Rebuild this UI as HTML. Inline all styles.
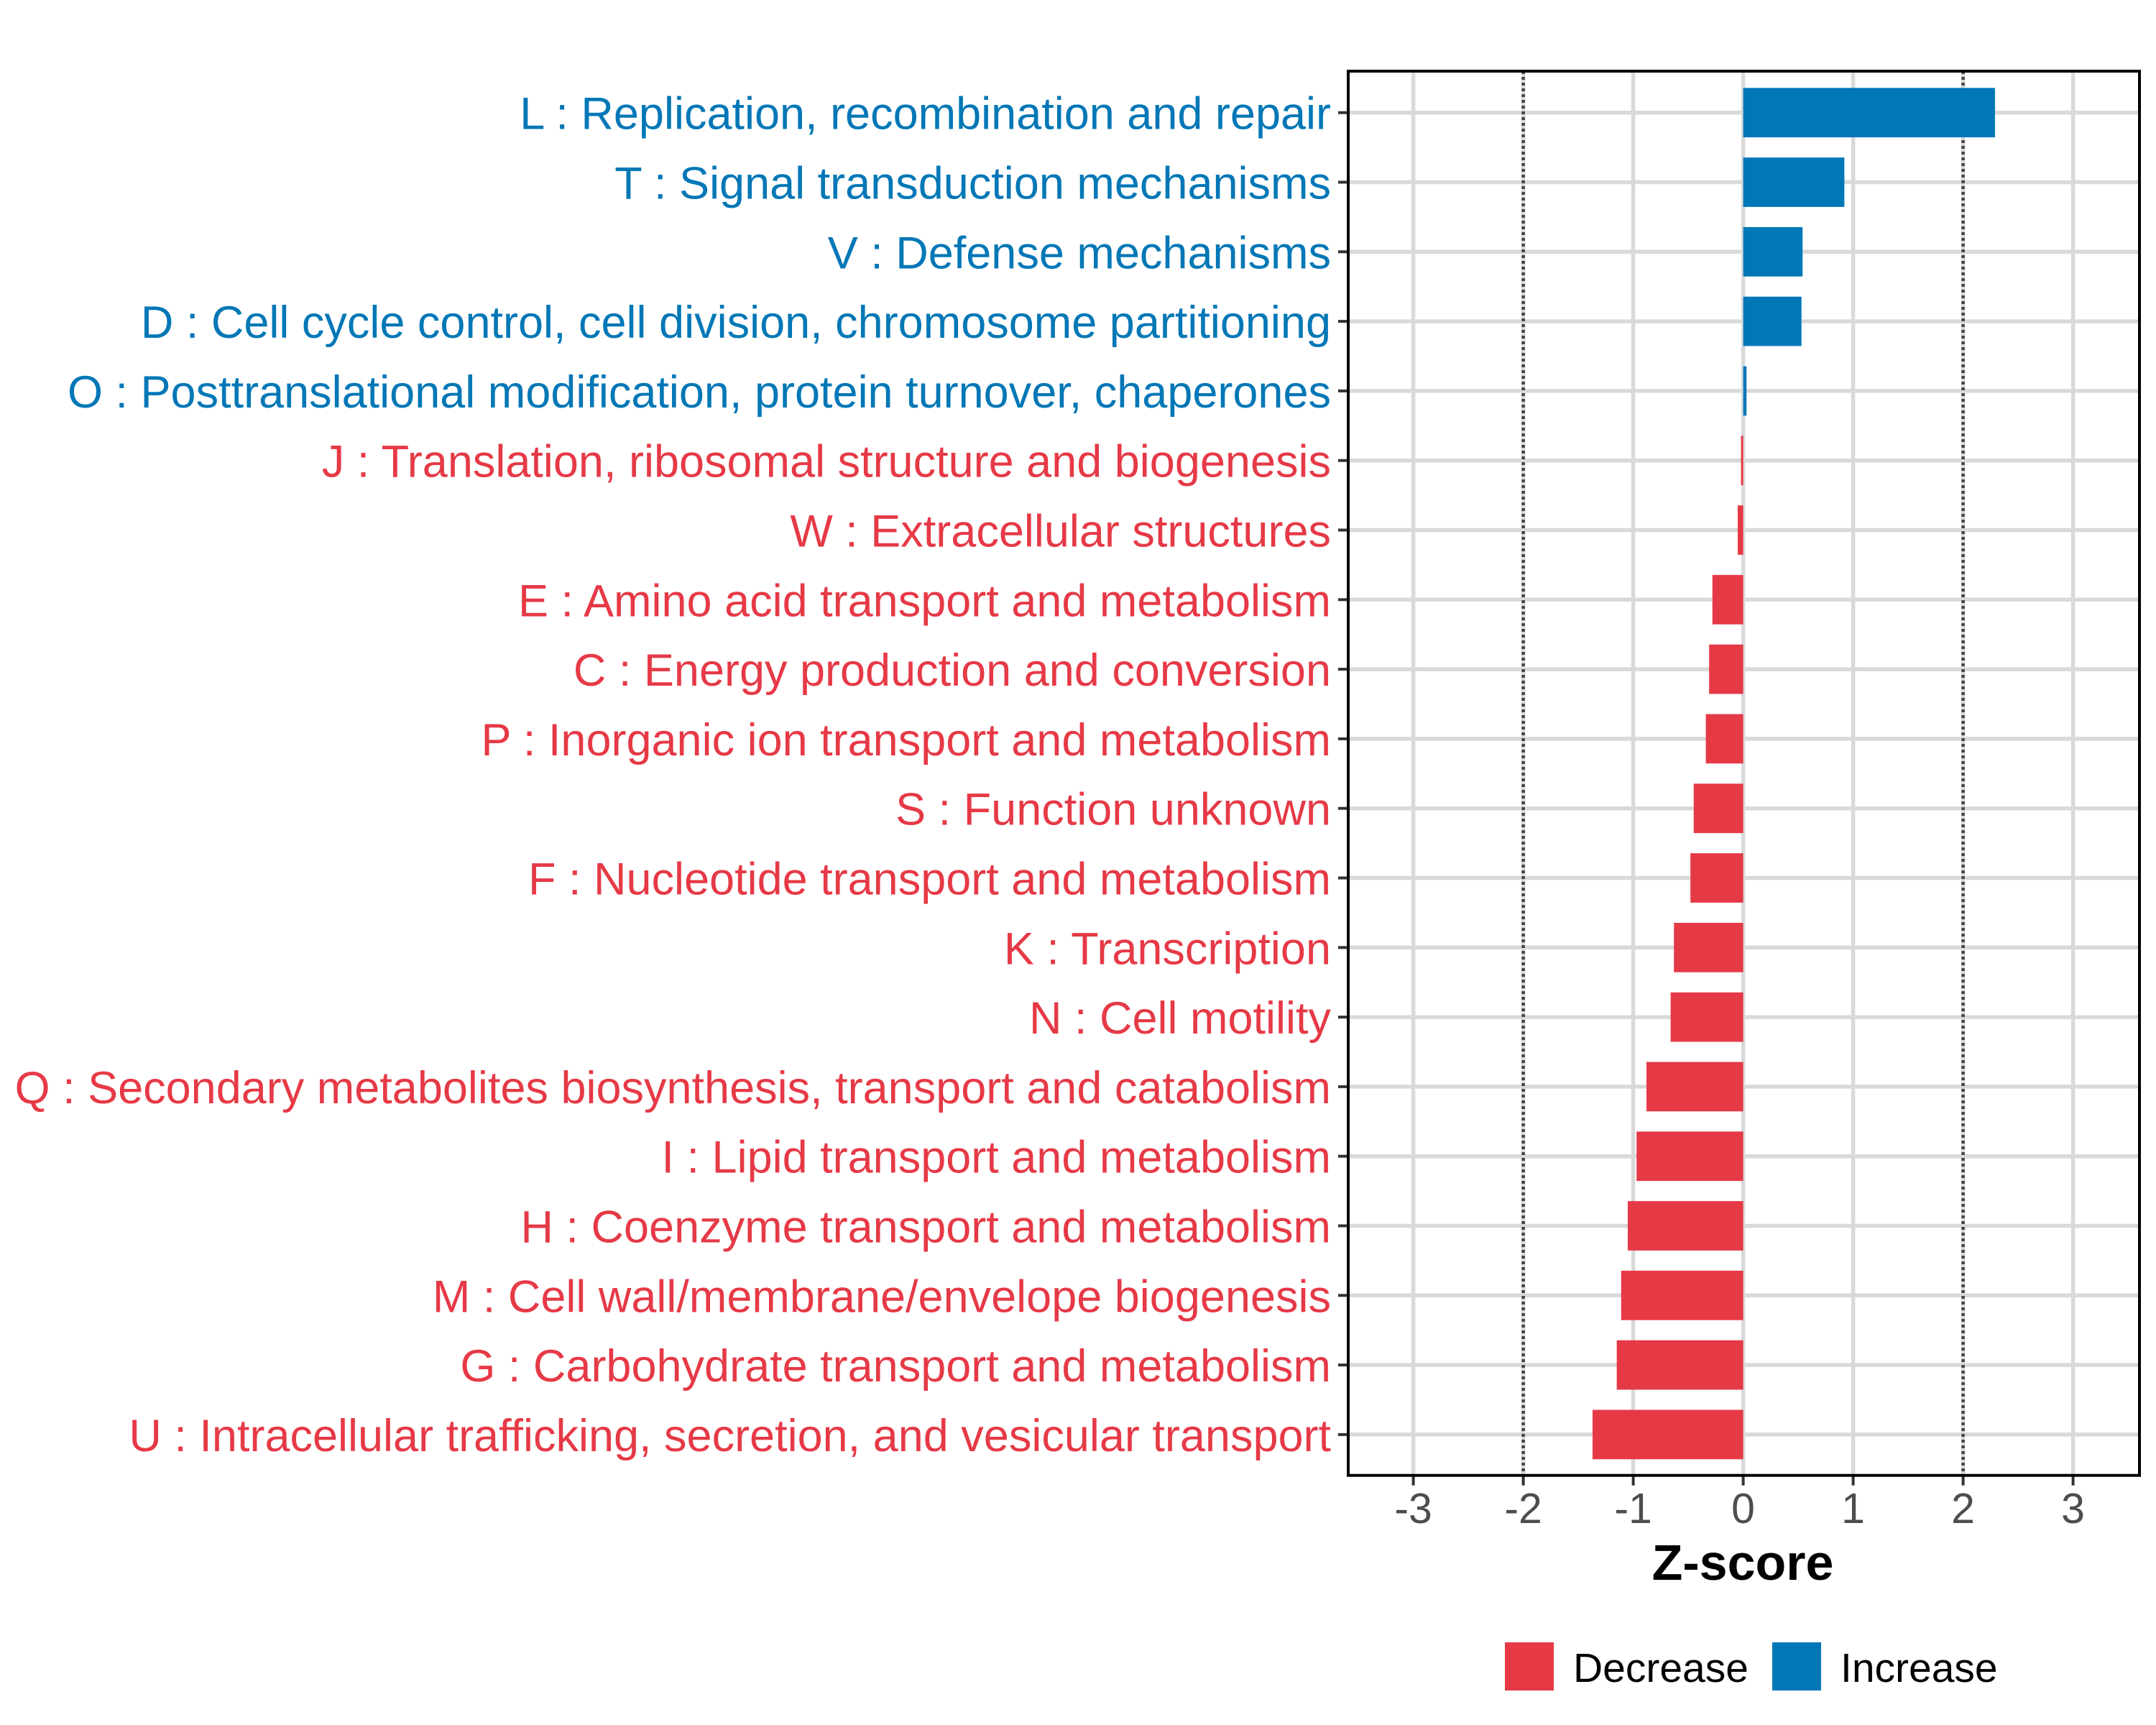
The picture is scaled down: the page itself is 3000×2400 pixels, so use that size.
<!DOCTYPE html>
<html><head><meta charset="utf-8"><style>
html,body{margin:0;padding:0;background:#fff;}
svg{display:block;font-family:"Liberation Sans",Arial,sans-serif;}
</style></head><body>
<svg id="chart" width="3000" height="2400" viewBox="0 0 3000 2400" xmlns="http://www.w3.org/2000/svg">
<rect width="3000" height="2400" fill="#fff"/>
<g id="grid"></g>
<g id="bars"></g>
<g id="ylabels"></g>
<g id="xaxis"></g>
<rect x="1876" y="99" width="1101" height="1953.7" fill="none" stroke="#000" stroke-width="4"/>
<text x="2425" y="2198" font-size="70" font-weight="bold" text-anchor="middle" fill="#000">Z-score</text>
<g>
<rect x="2094" y="2285" width="68" height="67" fill="#E63946"/>
<text x="2189" y="2340" font-size="57" fill="#000">Decrease</text>
<rect x="2466" y="2285" width="68" height="67" fill="#0077B6"/>
<text x="2561" y="2340" font-size="57" fill="#000">Increase</text>
</g>
</svg>
<script>
const categories = [
"L : Replication, recombination and repair",
"T : Signal transduction mechanisms",
"V : Defense mechanisms",
"D : Cell cycle control, cell division, chromosome partitioning",
"O : Posttranslational modification, protein turnover, chaperones",
"J : Translation, ribosomal structure and biogenesis",
"W : Extracellular structures",
"E : Amino acid transport and metabolism",
"C : Energy production and conversion",
"P : Inorganic ion transport and metabolism",
"S : Function unknown",
"F : Nucleotide transport and metabolism",
"K : Transcription",
"N : Cell motility",
"Q : Secondary metabolites biosynthesis, transport and catabolism",
"I : Lipid transport and metabolism",
"H : Coenzyme transport and metabolism",
"M : Cell wall/membrane/envelope biogenesis",
"G : Carbohydrate transport and metabolism",
"U : Intracellular trafficking, secretion, and vesicular transport"];
const zscores = [2.29,0.92,0.54,0.53,0.03,-0.02,-0.05,-0.28,-0.31,-0.34,-0.45,-0.48,-0.63,-0.66,-0.88,-0.97,-1.05,-1.11,-1.15,-1.37];
const xTicks = [-3,-2,-1,0,1,2,3];
const xTickLabels = ["-3","-2","-1","0","1","2","3"];
const thresholds = [-2,2];

const NS="http://www.w3.org/2000/svg";
const X0=2425.6, UNIT=153.0, Y0=156.7, STEP=96.8, LEFT=1876, RIGHT=2977, TOP=99, BOTTOM=2052.7;
const xs=v=>X0+v*UNIT;
const ys=i=>Y0+i*STEP;
const BLUE="#0077B6", RED="#E63946";
function mk(tag,attrs,parent){const e=document.createElementNS(NS,tag);for(const k in attrs)e.setAttribute(k,attrs[k]);parent.appendChild(e);return e;}
const grid=document.getElementById('grid'),bars=document.getElementById('bars'),yl=document.getElementById('ylabels'),xa=document.getElementById('xaxis');
xTicks.forEach((t,i)=>{
  const g=mk('line',{x1:xs(t),x2:xs(t),y1:TOP,y2:BOTTOM,stroke:'#d9d9d9','stroke-width':5.5},grid);
  
  
  const tk=mk('line',{x1:xs(t),x2:xs(t),y1:BOTTOM,y2:BOTTOM+14,stroke:'#333','stroke-width':4},xa);
  
  
  const tl=mk('text',{x:xs(t),y:2119,'font-size':59,'text-anchor':'middle',fill:'#4d4d4d'},xa);
  tl.textContent=xTickLabels[i];
  
  
});
categories.forEach((c,i)=>{
  const g=mk('line',{x1:LEFT,x2:RIGHT,y1:ys(i),y2:ys(i),stroke:'#d9d9d9','stroke-width':5.5},grid);
  
  
});
thresholds.forEach(t=>{
  const d=mk('line',{x1:xs(t),x2:xs(t),y1:TOP,y2:BOTTOM,stroke:'#444','stroke-width':4.5,'stroke-dasharray':'4 4'},grid);
  
  
});
categories.forEach((c,i)=>{
  const v=zscores[i], col=v>=0?BLUE:RED, h=STEP*0.71;
  const r=mk('rect',{x:Math.min(xs(0),xs(v)),y:ys(i)-h/2,width:Math.abs(xs(v)-xs(0)),height:h,fill:col},bars);
  
  
  const tk=mk('line',{x1:LEFT-14,x2:LEFT,y1:ys(i),y2:ys(i),stroke:'#333','stroke-width':4},yl);
  
  
  const t=mk('text',{x:1852,y:ys(i)+23,'font-size':63,'text-anchor':'end',fill:col},yl);
  t.textContent=c;
  
  
});
</script>
</body></html>
